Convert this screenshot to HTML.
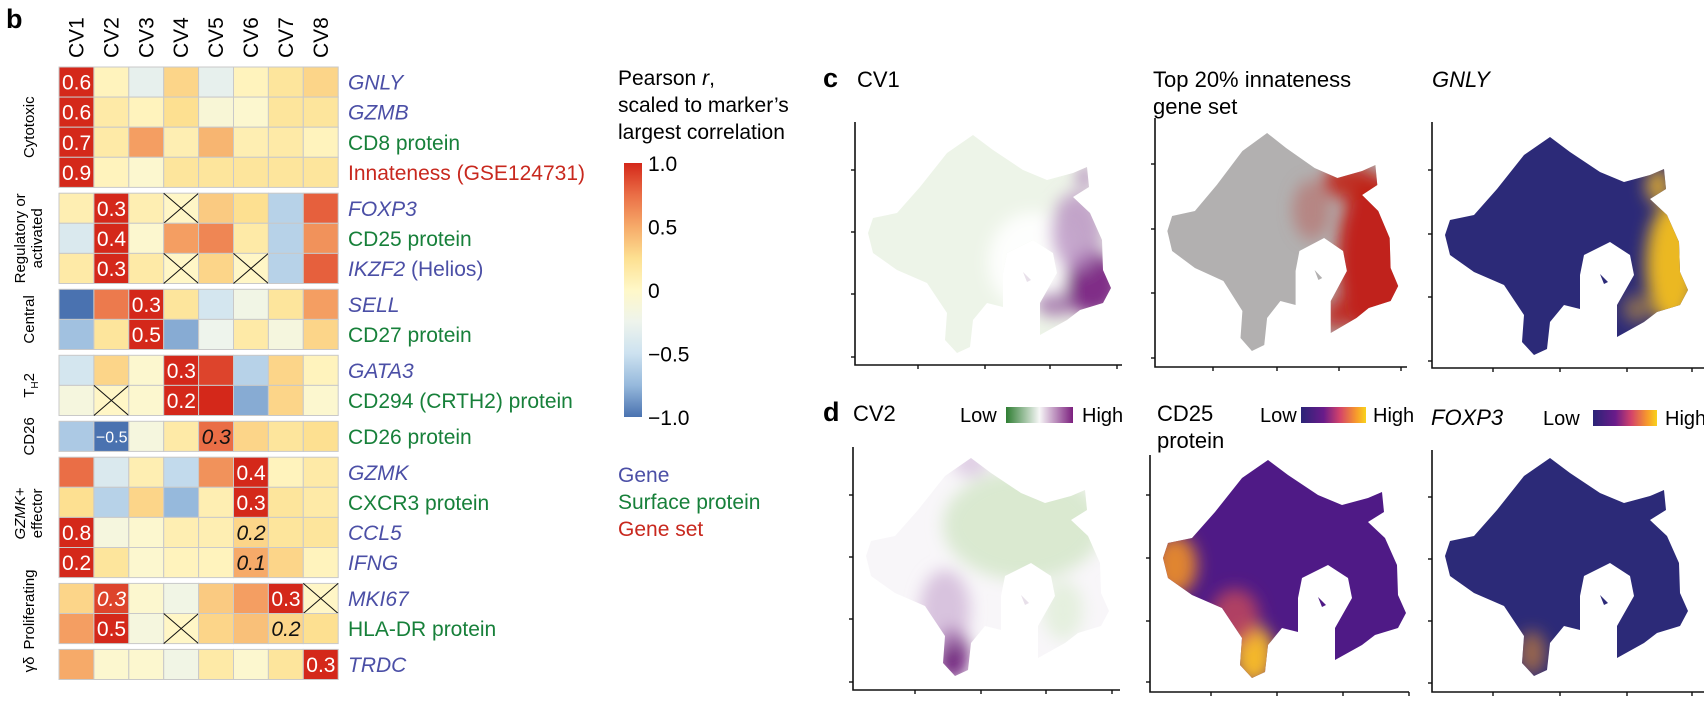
<!DOCTYPE html>
<html><head><meta charset="utf-8">
<style>
html,body{margin:0;padding:0;background:#fff;}
svg{display:block;font-family:"Liberation Sans",Arial,sans-serif;}
</style></head>
<body>
<svg id="fig" width="1704" height="703" viewBox="0 0 1704 703" xmlns="http://www.w3.org/2000/svg">
<defs>
  <linearGradient id="cbar" x1="0" y1="0" x2="0" y2="1">
    <stop offset="0" stop-color="#d4281a"/>
    <stop offset="0.125" stop-color="#ea6e46"/>
    <stop offset="0.25" stop-color="#f6aa69"/>
    <stop offset="0.375" stop-color="#fde091"/>
    <stop offset="0.5" stop-color="#fff8c8"/>
    <stop offset="0.625" stop-color="#eef4ec"/>
    <stop offset="0.75" stop-color="#cde2f0"/>
    <stop offset="0.875" stop-color="#96b9dc"/>
    <stop offset="1" stop-color="#4a72b0"/>
  </linearGradient>
  <linearGradient id="gPG" x1="0" x2="1"><stop offset="0" stop-color="#2e7d32"/><stop offset="0.5" stop-color="#f7f7f7"/><stop offset="1" stop-color="#7b1f7e"/></linearGradient>
  <linearGradient id="gPlasma" x1="0" x2="1"><stop offset="0" stop-color="#2a2477"/><stop offset="0.35" stop-color="#6a1b8a"/><stop offset="0.6" stop-color="#d4436a"/><stop offset="0.85" stop-color="#f79a2c"/><stop offset="1" stop-color="#f8d21c"/></linearGradient>
  <filter id="blur8" x="-50%" y="-50%" width="200%" height="200%"><feGaussianBlur stdDeviation="8"/></filter>
</defs>
<g id="heat"></g>
<g id="legend"></g>
<g id="umaps"></g>
</svg>
<script>
// ---- heatmap data ----
const columns = ["CV1","CV2","CV3","CV4","CV5","CV6","CV7","CV8"];
const rowLabels = ["GNLY","GZMB","CD8 protein","Innateness (GSE124731)","FOXP3","CD25 protein","IKZF2","SELL","CD27 protein","GATA3","CD294 (CRTH2) protein","CD26 protein","GZMK","CXCR3 protein","CCL5","IFNG","MKI67","HLA-DR protein","TRDC"];
const rowTypes = ["gene","gene","protein","set","gene","protein","gene","gene","protein","gene","protein","protein","gene","protein","gene","gene","gene","protein","gene"];
const groupNames = ["Cytotoxic","Regulatory or activated","Central","TH2","CD26","GZMK+ effector","Proliferating","γδ"];
const groupSizes = [4,3,2,2,1,4,2,1];
// scaled Pearson r; null = not computed (crossed cell)
const values = [
 [1,0.05,-0.3,0.3,-0.3,0.05,0.2,0.3],
 [1,0.15,0.05,0.25,-0.1,-0.05,0.2,0.2],
 [1,0.15,0.55,0.1,0.45,0.1,0.15,0.05],
 [1,0.05,-0.05,0.2,0.2,0.2,0.2,0.2],
 [0.1,1,0.1,null,0.35,0.25,-0.6,0.8],
 [-0.4,1,-0.05,0.55,0.65,0.15,-0.6,0.6],
 [0.15,1,0.15,null,0.3,null,-0.6,0.8],
 [-1,0.7,1,0.2,-0.45,-0.2,0.2,0.55],
 [-0.7,0.2,1,-0.8,-0.25,0.15,-0.15,0.3],
 [-0.45,0.3,-0.05,1,0.9,-0.6,0.3,0.05],
 [-0.15,null,-0.05,1,1,-0.8,0.3,-0.05],
 [-0.65,-1,-0.15,0.15,0.75,0.3,0.2,0.25],
 [0.75,-0.4,0.1,-0.55,0.6,1,0.05,0.15],
 [0.25,-0.6,0.3,-0.75,0.1,1,0.2,0.15],
 [1,-0.15,-0.05,0.1,0.1,0.3,0.2,0.2],
 [1,0.2,-0.05,0.05,0.05,0.5,0.3,0.05],
 [0.3,0.9,-0.05,-0.2,0.35,0.55,1,null],
 [0.55,1,-0.15,null,0.3,0.4,0.3,0.25],
 [0.5,-0.05,-0.05,-0.2,0.15,-0.05,0.2,1]
];
// printed correlations: [row, col, text, style]
const cellTexts = [
 [0,0,"0.6","w"],[1,0,"0.6","w"],[2,0,"0.7","w"],[3,0,"0.9","w"],
 [4,1,"0.3","w"],[5,1,"0.4","w"],[6,1,"0.3","w"],
 [7,2,"0.3","w"],[8,2,"0.5","w"],
 [9,3,"0.3","w"],[10,3,"0.2","w"],
 [11,1,"−0.5","ws"],[11,4,"0.3","bi"],
 [12,5,"0.4","w"],[13,5,"0.3","w"],[14,0,"0.8","w"],[14,5,"0.2","bi"],[15,0,"0.2","w"],[15,5,"0.1","bi"],
 [16,1,"0.3","wi"],[16,6,"0.3","w"],[17,1,"0.5","w"],[17,6,"0.2","bi"],
 [18,7,"0.3","w"]
];
const colorbarTicks = [1.0,0.5,0,-0.5,-1.0];
const colorbarTickLabels = ["1.0","0.5","0","−0.5","−1.0"];

const NS="http://www.w3.org/2000/svg";
function el(tag, attrs, parent, text){
  const e=document.createElementNS(NS,tag);
  for(const k in attrs) e.setAttribute(k,attrs[k]);
  if(text!==undefined) e.textContent=text;
  parent.appendChild(e); return e;
}
const stops=[[-1,[74,114,176]],[-0.75,[150,185,220]],[-0.5,[205,226,240]],[-0.25,[238,244,236]],[0,[255,248,200]],[0.25,[253,224,145]],[0.5,[246,170,105]],[0.75,[234,110,70]],[1,[212,40,26]]];
function colorFor(v){
  for(let i=0;i<stops.length-1;i++){
    const [a,ca]=stops[i],[b,cb]=stops[i+1];
    if(v<=b){const t=(v-a)/(b-a);return "rgb("+ca.map((c,j)=>Math.round(c+(cb[j]-c)*t)).join(",")+")";}
  }
  return "rgb(212,40,26)";
}
const X0=59, CW=34.9, Y0=67, RH=30.1, GAP=5.8;
const xCol = c => X0 + c*CW;
const rowGroup=[]; groupSizes.forEach((n,g)=>{for(let i=0;i<n;i++) rowGroup.push(g);});
const yRow = r => Y0 + r*RH + rowGroup[r]*GAP;

const heat=document.getElementById('heat');
const bl=el('text',{x:6,y:28,'font-size':27,'font-weight':'bold'},heat,'b');


columns.forEach((c,i)=>{
  const t=el('text',{x:0,y:0,'font-size':21,'text-anchor':'start',transform:`translate(${xCol(i)+CW/2+7},58) rotate(-90)`},heat,c);
  
  
});
const typeColor={gene:"#4b4fa6",protein:"#17803a",set:"#c8281e"};
values.forEach((row,r)=>{
  row.forEach((v,c)=>{
    const x=xCol(c), y=yRow(r);
    const rc=el('rect',{x:x,y:y,width:CW,height:RH,fill:v===null?"#fff6c6":colorFor(v),stroke:"#c9c9c9","stroke-width":1},heat);
    
    
    if(v===null){
      el('line',{x1:x,y1:y,x2:x+CW,y2:y+RH,stroke:"#111","stroke-width":1},heat);
      el('line',{x1:x+CW,y1:y,x2:x,y2:y+RH,stroke:"#111","stroke-width":1},heat);
    }
  });
  const y=yRow(r)+RH/2+7.5;
  const lab=rowLabels[r];
  const t=el('text',{x:348,y:y,'font-size':21,fill:typeColor[rowTypes[r]]},heat);
  
  
  if(lab==="IKZF2"){
    el('tspan',{'font-style':'italic'},t,'IKZF2');
    el('tspan',{},t,' (Helios)');
  } else {
    t.textContent=lab;
    if(rowTypes[r]==="gene") t.setAttribute('font-style','italic');
  }
});
cellTexts.forEach(([r,c,txt,st])=>{
  const t=el('text',{x:xCol(c)+3,y:yRow(r)+RH/2+7.5,'font-size':st==="ws"?16:21,fill:st[0]==="b"?"#111":"#fff",'font-style':st.endsWith('i')?'italic':'normal'},heat,txt);
  if(st==="ws"){t.setAttribute('x',xCol(c)+2);t.setAttribute('y',yRow(r)+RH/2+6);}
  
  
});
const groupShift=[0,0,0,0,0,-4,-4,0];
let startRow=0;
groupNames.forEach((g,gi)=>{
  const n=groupSizes[gi];
  const cy=(yRow(startRow)+yRow(startRow+n-1)+RH)/2+groupShift[gi];
  startRow+=n;
  const grp=el('g',{transform:`translate(0,${cy}) rotate(-90)`},heat);
  
  
  if(g==="Regulatory or activated"){
    el('text',{x:0,y:25,'font-size':15,'text-anchor':'middle'},grp,'Regulatory or');
    el('text',{x:0,y:42,'font-size':15,'text-anchor':'middle'},grp,'activated');
  } else if(g==="GZMK+ effector"){
    const a=el('text',{x:0,y:25,'font-size':15,'text-anchor':'middle'},grp);
    el('tspan',{'font-style':'italic'},a,'GZMK');el('tspan',{},a,'+');
    el('text',{x:0,y:42,'font-size':15,'text-anchor':'middle'},grp,'effector');
  } else if(g==="TH2"){
    const a=el('text',{x:0,y:34,'font-size':15,'text-anchor':'middle'},grp);
    el('tspan',{},a,'T');el('tspan',{'font-size':10,dy:4},a,'H');el('tspan',{dy:-4},a,'2');
  } else {
    el('text',{x:0,y:34,'font-size':15,'text-anchor':'middle'},grp,g);
  }
});

// ---- colorbar legend ----
const lg=document.getElementById('legend');
[["Pearson ",85],["scaled to marker’s",112],["largest correlation",139]].forEach(([t,y],i)=>{
  const tx=el('text',{x:618,y:y,'font-size':21},lg,t);
  if(i===0){el('tspan',{'font-style':'italic'},tx,'r');el('tspan',{},tx,',');}
  
  
});
const CB_TOP=163, CB_BOT=417;
const yCb = v => CB_TOP + (1-v)/2*(CB_BOT-CB_TOP);
const cb=el('rect',{x:624,y:CB_TOP,width:18,height:CB_BOT-CB_TOP,fill:"url(#cbar)"},lg);


colorbarTicks.forEach((v,i)=>{
  const t=el('text',{x:648,y:yCb(v)+8,'font-size':21},lg,colorbarTickLabels[i]);
  
  
});
[["Gene","#4b4fa6",482],["Surface protein","#17803a",509],["Gene set","#c8281e",536]].forEach(([t,c,y])=>{
  const tx=el('text',{x:618,y:y,'font-size':21,fill:c},lg,t);
  
  
});

// ---- UMAP panels ----
const um=document.getElementById('umaps');
const shapePts=[[118,13],[138,28],[168,48],[192,58],[218,51],[232,45],[234,65],[218,75],[235,91],[247,118],[248,148],[256,166],[248,181],[225,188],[212,198],[185,213],[185,181],[202,151],[198,131],[178,118],[152,131],[148,151],[148,185],[132,181],[118,198],[115,225],[102,231],[90,218],[92,191],[72,161],[42,148],[18,131],[13,111],[18,96],[42,91],[65,65],[92,31]];
const shapeD="M"+shapePts.map(p=>p.join(",")).join(" L")+" Z";
const panels=[
 {id:"cv1",ax:855,ay:122,bot:365,right:1122,yt:[170,232,294,357],xt:[918,985,1050,1117],title:[["CV1",false]],tx:857,ty:87,sx:1,oy:0,base:"#edf4e8",
  blobs:[[178,140,45,50,"#ffffff",0.9],[238,162,28,32,"#7a2382",0.95],[222,110,26,40,"#b48abf",0.75],[230,55,8,12,"#9a60aa",0.7],[200,182,22,12,"#8a4a95",0.7]]},
 {id:"innate",ax:1155,ay:118,bot:367,right:1407,yt:[164,229,293,358],xt:[1213,1277,1339,1401],title:[["Top 20% innateness",false]],title2:"gene set",tx:1153,ty:87,sx:0.95,oy:2,base:"#b2b0b0",
  blobs:[[232,140,40,85,"#c0221a",1],[205,62,28,18,"#c0221a",0.9],[190,195,14,16,"#c0221a",0.85],[165,90,20,30,"#b86a66",0.6]]},
 {id:"gnly",ax:1432,ay:122,bot:368,right:1704,yt:[170,234,297,361],xt:[1493,1560,1627,1692],title:[["GNLY",true]],tx:1432,ty:87,sx:1,oy:2,base:"#2c2a78",
  blobs:[[240,140,26,62,"#f6c01c",0.95],[226,62,12,18,"#f0b82a",0.85],[205,185,14,14,"#c89a3a",0.6]]},
 {id:"cv2",ax:853,ay:447,bot:690,right:1120,yt:[495,557,619,682],xt:[915,981,1046,1112],title:[["CV2",false]],tx:853,ty:421,sx:1,oy:-2,base:"#f8f6f9",
  blobs:[[170,80,80,55,"#d6e8cc",0.9],[210,165,20,30,"#e0eed8",0.8],[100,210,16,26,"#6e1a7a",0.95],[92,165,25,40,"#c3a0cc",0.6],[118,18,18,14,"#d8c3de",0.8]]},
 {id:"cd25",ax:1150,ay:455,bot:692,right:1409,yt:[495,558,621,682],xt:[1211,1277,1343,1409],title:[["CD25",false]],title2:"protein",tx:1157,ty:421,sx:1,oy:-8,base:"#4f1a86",
  blobs:[[25,118,22,30,"#e88a2a",0.95],[104,208,20,30,"#f4b82a",1],[85,170,24,28,"#c84a5a",0.8]]},
 {id:"foxp3",ax:1432,ay:450,bot:692,right:1704,yt:[497,559,621,683],xt:[1493,1560,1627,1692],title:[["FOXP3",true]],tx:1431,ty:425,sx:1,oy:-5,base:"#2c2a78",
  blobs:[[100,208,14,22,"#c8803a",0.7]]}
];
panels.forEach((p,i)=>{
  const g=el('g',{},um);
  
  
  const t=el('text',{x:p.tx,y:p.ty,'font-size':22,'font-style':p.title[0][1]?'italic':'normal'},g,p.title[0][0]);
  
  
  if(p.title2) el('text',{x:p.tx,y:p.ty+27,'font-size':22},g,p.title2);
  const cid='clip'+i;
  const cp=el('clipPath',{id:cid},g);
  const tr=`translate(${p.ax},${p.ay+p.oy}) scale(${p.sx},1)`;
  el('path',{d:shapeD,transform:tr},cp);
  const inner=el('g',{'clip-path':`url(#${cid})`},g);
  el('rect',{x:p.ax,y:p.ay-20,width:300,height:280,fill:p.base},inner);
  const bg=el('g',{transform:tr,filter:"url(#blur8)"},inner);
  p.blobs.forEach(b=>el('ellipse',{cx:b[0],cy:b[1],rx:b[2],ry:b[3],fill:b[4],opacity:b[5]},bg));
  el('path',{d:"M168,150 L176,158 L172,160 Z",transform:tr,fill:p.base==="#f8f6f9"||p.base==="#edf4e8"?"#e8e0ea":p.base},g);
  const ax=el('path',{d:`M${p.ax},${p.ay} L${p.ax},${p.bot} L${p.right},${p.bot}`,fill:"none",stroke:"#111","stroke-width":1.6},g);
  
  
  p.yt.forEach(y=>el('line',{x1:p.ax-4,y1:y,x2:p.ax,y2:y,stroke:"#111","stroke-width":1.4},g));
  p.xt.forEach(x=>el('line',{x1:x,y1:p.bot,x2:x,y2:p.bot+4,stroke:"#111","stroke-width":1.4},g));
});
const c=el('text',{x:823,y:87,'font-size':27,'font-weight':'bold'},um,'c');


const d=el('text',{x:823,y:421,'font-size':27,'font-weight':'bold'},um,'d');


[[960,1006,1073,1082,407,"url(#gPG)"],[1260,1301,1366,1373,407,"url(#gPlasma)"],[1543,1593,1657,1665,410,"url(#gPlasma)"]].forEach((l,i)=>{
  const g=el('g',{},um);
  
  
  el('text',{x:l[0],y:l[4]+15,'font-size':20},g,'Low');
  el('rect',{x:l[1],y:l[4],width:l[2]-l[1],height:16,fill:l[5]},g);
  el('text',{x:l[3],y:l[4]+15,'font-size':20},g,'High');
});
</script>
</body></html>
